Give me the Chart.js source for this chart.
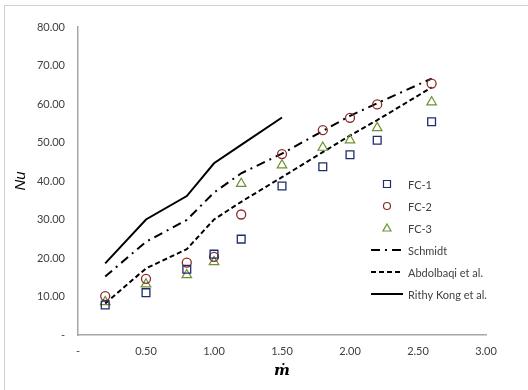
<!DOCTYPE html>
<html>
<head>
<meta charset="utf-8">
<script src="https://cdn.jsdelivr.net/npm/chart.js@4"></script>
<style>
  html, body { margin: 0; padding: 0; background: #fff; }
  #wrap { width: 528px; height: 390px; }
</style>
</head>
<body>
<div id="wrap"><canvas id="myChart" width="528" height="390"></canvas></div>
<script>
// mass flow rate values (x axis)
const mDot = [0.2, 0.5, 0.8, 1.0, 1.2, 1.5, 1.8, 2.0, 2.2, 2.6];
const fc1 = [7.8, 11.0, 17.1, 21.0, 24.9, 38.7, 43.7, 46.8, 50.6, 55.4];
const fc2 = [10.1, 14.6, 18.8, 20.3, 31.3, 47.0, 53.2, 56.4, 59.9, 65.3];
const fc3 = [8.6, 13.2, 15.6, 19.0, 39.3, 44.1, 48.7, 50.6, 53.8, 60.5];
const schmidt = [15.2, 24.2, 29.9, 37.0, 42.0, 47.1, 53.0, 56.9, 60.2, 66.6];
const abdolbaqi = [8.2, 17.3, 22.3, 30.0, 34.6, 41.0, 47.5, 51.8, 55.8, 64.3];
const mDotKong = [0.2, 0.5, 0.8, 1.0, 1.2, 1.5];
const rithyKong = [18.6, 30.0, 36.1, 44.6, 49.4, 56.5];

const xTicks = [0, 0.5, 1, 1.5, 2, 2.5, 3];
const yTicks = [0, 10, 20, 30, 40, 50, 60, 70, 80];

const pts = (xs, ys) => xs.map((x, i) => ({ x: x, y: ys[i] }));
const fmt = v => v === 0 ? '-' : v.toFixed(2);

const font = "Lato, 'Open Sans', sans-serif";

// legend drawn inside the plot, like the excel one
const legendBox = {
  id: 'legendBox',
  afterDraw(chart) {
    const ctx = chart.ctx;
    const x0 = 371, x1 = 403, mx = 387, tx = 408;
    let y = 184;
    ctx.save();
    ctx.font = "11px " + font;
    ctx.textBaseline = 'middle';
    chart.data.datasets.forEach(ds => {
      ctx.strokeStyle = ds.borderColor;
      ctx.fillStyle = '#fff';
      if (ds.showLine) {
        ctx.lineWidth = ds.borderWidth;
        ctx.setLineDash(ds.borderDash || []);
        ctx.beginPath();
        ctx.moveTo(x0, y);
        ctx.lineTo(x1, y);
        ctx.stroke();
        ctx.setLineDash([]);
      } else {
        ctx.lineWidth = 1.2;
        ctx.beginPath();
        if (ds.pointStyle === 'rect') {
          ctx.rect(mx - 3.5, y - 3.5, 7, 7);
        } else if (ds.pointStyle === 'circle') {
          ctx.arc(mx, y, 3.5, 0, Math.PI * 2);
        } else {
          ctx.moveTo(mx, y - 4);
          ctx.lineTo(mx + 4, y + 3);
          ctx.lineTo(mx - 4, y + 3);
          ctx.closePath();
        }
        ctx.stroke();
      }
      ctx.fillStyle = '#404040';
      ctx.fillText(ds.label, tx, y + 1);
      y += 22;
    });
    ctx.restore();
  }
};

const frame = {
  id: 'frame',
  beforeDraw(chart) {
    const ctx = chart.ctx;
    ctx.save();
    ctx.fillStyle = '#fff';
    ctx.fillRect(0, 0, chart.width, chart.height);
    ctx.strokeStyle = '#d0d0d0';
    ctx.lineWidth = 1;
    ctx.strokeRect(4.5, 5.5, 700, 700);
    ctx.restore();
  }
};

const ctx = document.querySelector('#myChart').getContext('2d');

const myChart = new Chart(ctx, {
  type: 'scatter',
  data: {
    datasets: [{
      label: 'FC-1',
      data: pts(mDot, fc1),
      pointStyle: 'rect',
      pointRadius: 5.5,
      borderColor: '#1f2d6b',
      backgroundColor: 'rgba(0,0,0,0)',
      pointBorderWidth: 1.3,
      showLine: false,
    }, {
      label: 'FC-2',
      data: pts(mDot, fc2),
      pointStyle: 'circle',
      pointRadius: 4.5,
      borderColor: '#8c2b2b',
      backgroundColor: 'rgba(0,0,0,0)',
      pointBorderWidth: 1.3,
      showLine: false,
    }, {
      label: 'FC-3',
      data: pts(mDot, fc3),
      pointStyle: 'triangle',
      pointRadius: 5.5,
      borderColor: '#6f9033',
      backgroundColor: 'rgba(0,0,0,0)',
      pointBorderWidth: 1.2,
      showLine: false,
    }, {
      label: 'Schmidt',
      data: pts(mDot, schmidt),
      showLine: true,
      pointRadius: 0,
      borderColor: '#000',
      borderWidth: 2,
      borderDash: [9, 5, 2, 5],
      tension: 0,
    }, {
      label: 'Abdolbaqi et al.',
      data: pts(mDot, abdolbaqi),
      showLine: true,
      pointRadius: 0,
      borderColor: '#000',
      borderWidth: 2,
      borderDash: [5, 3],
      tension: 0,
    }, {
      label: 'Rithy Kong et al.',
      data: pts(mDotKong, rithyKong),
      showLine: true,
      pointRadius: 0,
      borderColor: '#000',
      borderWidth: 2,
      tension: 0,
    }],
  },
  options: {
    responsive: false,
    animation: false,
    layout: {
      padding: { left: 0, right: 42, top: 27, bottom: 2 }
    },
    plugins: {
      legend: { display: false },
      tooltip: { enabled: false }
    },
    scales: {
      x: {
        type: 'linear',
        min: 0,
        max: 3,
        afterBuildTicks: axis => { axis.ticks = xTicks.map(v => ({ value: v })); },
        afterFit: axis => { axis.height = 53; },
        grid: { display: false, drawTicks: false },
        border: { color: '#a6a6a6', width: 1.5 },
        ticks: {
          callback: fmt,
          padding: 10,
          maxRotation: 0,
          color: '#404040',
          font: { family: font, size: 11 }
        },
        title: {
          display: true,
          text: 'ṁ',
          color: '#000',
          padding: { top: 4, bottom: 8 },
          font: { family: "'DejaVu Serif', serif", size: 15, style: 'italic', weight: 'bold' }
        }
      },
      y: {
        type: 'linear',
        min: 0,
        max: 80,
        afterBuildTicks: axis => { axis.ticks = yTicks.map(v => ({ value: v })); },
        afterFit: axis => { axis.width = 78; },
        grid: { display: false, drawTicks: false },
        border: { color: '#a6a6a6', width: 1.5 },
        ticks: {
          callback: fmt,
          padding: 13,
          color: '#404040',
          font: { family: font, size: 11 }
        },
        title: {
          display: true,
          text: 'Nu',
          color: '#000',
          padding: { top: 12, bottom: 0 },
          font: { family: "'Liberation Sans', sans-serif", size: 15, style: 'italic' }
        }
      }
    }
  },
  plugins: [frame, legendBox]
});
</script>
</body>
</html>
